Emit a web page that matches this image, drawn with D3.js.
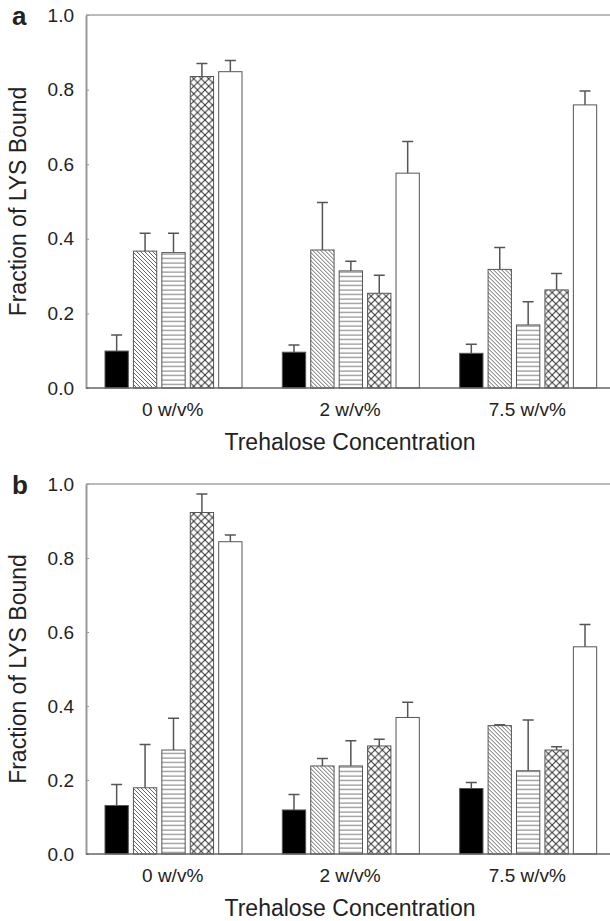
<!DOCTYPE html>
<html>
<head>
<meta charset="utf-8">
<script src="https://cdn.jsdelivr.net/npm/d3@7"></script>
<style>
  html, body { margin: 0; background: white; overflow: hidden; }
  svg { display: block; }
  text { font-family: "Liberation Sans", Arial, sans-serif; fill: #222; }
</style>
</head>
<body>
<svg id="chart"></svg>
<script>
// categories
let groups = ["0 w/v%", "2 w/v%", "7.5 w/v%"]
let series = ["solid", "diagonal", "horizontal", "crosshatch", "open"]
let yTicks = [0, 0.2, 0.4, 0.6, 0.8, 1.0]

// panel a: means and upper error (sd), one row per group
let meanA = [
    [0.099, 0.367, 0.363, 0.835, 0.848],
    [0.096, 0.370, 0.314, 0.254, 0.576],
    [0.093, 0.318, 0.169, 0.263, 0.759]
]
let errA = [
    [0.043, 0.048, 0.052, 0.035, 0.030],
    [0.019, 0.127, 0.026, 0.048, 0.085],
    [0.024, 0.059, 0.062, 0.044, 0.037]
]

// panel b
let meanB = [
    [0.131, 0.179, 0.281, 0.923, 0.844],
    [0.119, 0.238, 0.238, 0.292, 0.369],
    [0.177, 0.347, 0.225, 0.281, 0.560]
]
let errB = [
    [0.057, 0.117, 0.086, 0.050, 0.018],
    [0.042, 0.020, 0.068, 0.018, 0.041],
    [0.016, 0.002, 0.137, 0.009, 0.060]
]

let width = 610
let height = 921

let svg = d3.select("#chart")
    .attr("width", width)
    .attr("height", height)

// hatch patterns
let defs = svg.append("defs")

let pDiag = defs.append("pattern")
    .attr("id", "diagonal")
    .attr("patternUnits", "userSpaceOnUse")
    .attr("width", 4).attr("height", 4)
pDiag.append("rect").attr("width", 4).attr("height", 4).attr("fill", "white")
pDiag.append("path")
    .attr("d", "M-1,-1 L5,5 M-1,3 L1,5 M3,-1 L5,1")
    .attr("stroke", "#555").attr("stroke-width", 0.9)

let pHor = defs.append("pattern")
    .attr("id", "horizontal")
    .attr("patternUnits", "userSpaceOnUse")
    .attr("width", 4).attr("height", 4.5)
pHor.append("rect").attr("width", 4).attr("height", 4.5).attr("fill", "white")
pHor.append("path")
    .attr("d", "M0,2 L4,2")
    .attr("stroke", "#777").attr("stroke-width", 1)

let pCross = defs.append("pattern")
    .attr("id", "crosshatch")
    .attr("patternUnits", "userSpaceOnUse")
    .attr("width", 7.5).attr("height", 7.5)
pCross.append("rect").attr("width", 7.5).attr("height", 7.5).attr("fill", "white")
pCross.append("path")
    .attr("d", "M0,0 L7.5,7.5 M7.5,0 L0,7.5")
    .attr("stroke", "#333").attr("stroke-width", 1)

function fill(s) {
    if (s == "solid") return "black"
    else if (s == "open") return "white"
    else return `url(#${s})`
}

let x0 = d3.scaleBand().domain(groups).range([85, 617])
let x1 = d3.scaleBand().domain(series).range([20, 157]).paddingInner(0.18)

function drawPanel(label, means, errs, top, bottom) {
    let y = d3.scaleLinear().domain([0, 1]).range([bottom, top])
    let g = svg.append("g")

    // top frame line
    g.append("line")
        .attr("x1", 86).attr("x2", width)
        .attr("y1", y(1)).attr("y2", y(1))
        .attr("stroke", "#bbb").attr("stroke-width", 2)

    // y axis
    let yAxis = g.append("g")
        .attr("transform", "translate(86,0)")
        .call(d3.axisRight(y).tickValues(yTicks).tickSize(3).tickSizeOuter(0).tickFormat(""))
    yAxis.select(".domain").attr("stroke", "#999").attr("stroke-width", 2)
    yAxis.selectAll(".tick line").attr("stroke", "#999")

    g.selectAll(".ylab").data(yTicks).enter().append("text")
        .attr("x", 74)
        .attr("y", d => y(d))
        .attr("dy", "0.35em")
        .attr("text-anchor", "end")
        .attr("font-size", 19)
        .attr("fill", "#333")
        .text(d3.format(".1f"))

    // bars
    let rows = groups.map((gr, i) => series.map((s, j) => ({group: gr, series: s, value: means[i][j], err: errs[i][j]})))
    let gg = g.selectAll(".grp").data(rows).enter().append("g")
        .attr("transform", (d, i) => `translate(${x0(groups[i])},0)`)

    // error bars
    gg.selectAll(".err").data(d => d).enter().append("path")
        .attr("d", d => {
            let cx = x1(d.series) + x1.bandwidth() / 2
            let yt = y(d.value + d.err)
            return `M${cx},${y(d.value)} V${yt} M${cx - 5.5},${yt} H${cx + 5.5}`
        })
        .attr("stroke", "#555").attr("stroke-width", 1.5).attr("fill", "none")

    gg.selectAll("rect").data(d => d).enter().append("rect")
        .attr("x", d => x1(d.series))
        .attr("y", d => y(d.value))
        .attr("width", x1.bandwidth())
        .attr("height", d => y(0) - y(d.value))
        .attr("fill", d => fill(d.series))
        .attr("stroke", "#555").attr("stroke-width", 1)

    // x axis
    g.append("line")
        .attr("x1", 86).attr("x2", width)
        .attr("y1", y(0)).attr("y2", y(0))
        .attr("stroke", "#666").attr("stroke-width", 1.5)

    g.selectAll(".xlab").data(groups).enter().append("text")
        .attr("x", d => x0(d) + x0.bandwidth() / 2 - 1)
        .attr("y", y(0) + 28)
        .attr("text-anchor", "middle")
        .attr("font-size", 19)
        .attr("fill", "#333")
        .text(d => d)

    g.append("text")
        .attr("x", 350)
        .attr("y", y(0) + 62)
        .attr("text-anchor", "middle")
        .attr("font-size", 23)
        .text("Trehalose Concentration")

    g.append("text")
        .attr("transform", `translate(26,${(top + bottom) / 2}) rotate(-90)`)
        .attr("text-anchor", "middle")
        .attr("font-size", 23)
        .text("Fraction of LYS Bound")

    g.append("text")
        .attr("x", 12)
        .attr("y", top + 10)
        .attr("font-size", 26)
        .attr("font-weight", "bold")
        .attr("fill", "#111")
        .text(label)
}

drawPanel("a", meanA, errA, 15, 388)
drawPanel("b", meanB, errB, 484, 854)
</script>
</body>
</html>
